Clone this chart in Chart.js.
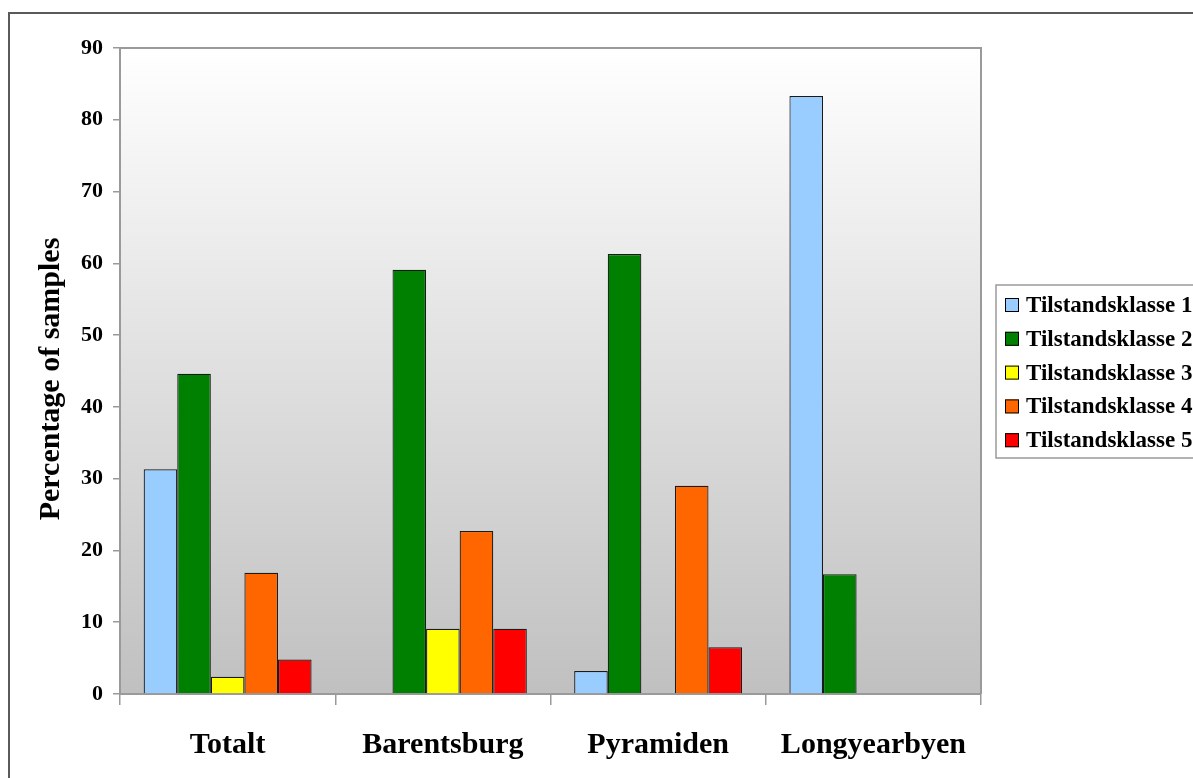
<!DOCTYPE html>
<html>
<head>
<meta charset="utf-8">
<script src="https://cdn.jsdelivr.net/npm/chart.js@4.4.1/dist/chart.umd.min.js"></script>
<style>
  html, body { margin: 0; padding: 0; background: #ffffff; }
  canvas { display: block; }
</style>
</head>
<body>
<canvas id="chart" width="1193" height="778"></canvas>
<script>
// Sites along the x axis
const categories = ['Totalt', 'Barentsburg', 'Pyramiden', 'Longyearbyen'];

// Share of samples (%) in each condition class, per site
const klasse1 = [31.3, 0, 3.2, 83.3];
const klasse2 = [44.6, 59.1, 61.3, 16.7];
const klasse3 = [2.4, 9.1, 0, 0];
const klasse4 = [16.9, 22.7, 29.0, 0];
const klasse5 = [4.8, 9.1, 6.5, 0];

const seriesLabels = ['Tilstandsklasse 1', 'Tilstandsklasse 2', 'Tilstandsklasse 3', 'Tilstandsklasse 4', 'Tilstandsklasse 5'];
const seriesColors = ['#99ccff', '#008000', '#ffff00', '#ff6600', '#ff0000'];
const yTicks = [0, 10, 20, 30, 40, 50, 60, 70, 80, 90];
const yTitle = 'Percentage of samples';

const serif = "'Liberation Serif', 'Times New Roman', serif";
const axisGray = '#9a9a9a';

// Gradient plot background, page frame, plot border and y-axis title
const framePlugin = {
  id: 'frame',
  beforeDraw(chart) {
    const { ctx, chartArea: a } = chart;
    ctx.save();
    ctx.fillStyle = '#ffffff';
    ctx.fillRect(0, 0, chart.width, chart.height);
    const g = ctx.createLinearGradient(0, a.top, 0, a.bottom);
    g.addColorStop(0, '#ffffff');
    g.addColorStop(1, '#c0c0c0');
    ctx.fillStyle = g;
    ctx.fillRect(a.left, a.top, a.right - a.left, a.bottom - a.top);
    ctx.strokeStyle = '#5a5a5a';
    ctx.lineWidth = 2;
    ctx.strokeRect(9, 13, chart.width + 20, chart.height + 20);
    ctx.restore();
  },
  afterDatasetsDraw(chart) {
    const { ctx, chartArea: a } = chart;
    ctx.save();
    ctx.strokeStyle = axisGray;
    ctx.lineWidth = 2;
    ctx.beginPath();
    ctx.moveTo(a.left, a.bottom);
    ctx.lineTo(a.left, a.top);
    ctx.lineTo(a.right, a.top);
    ctx.lineTo(a.right, a.bottom);
    ctx.stroke();
    ctx.restore();
  },
  afterDraw(chart) {
    const { ctx, chartArea: a } = chart;
    ctx.save();
    ctx.translate(51, (a.top + a.bottom) / 2 + 8);
    ctx.rotate(-Math.PI / 2);
    ctx.font = "bold 30px " + serif;
    ctx.fillStyle = '#000000';
    ctx.textAlign = 'center';
    ctx.textBaseline = 'middle';
    ctx.fillText(yTitle, 0, 0);
    ctx.restore();
  }
};

// Boxed legend to the right of the plot, built from the datasets
const legendBoxPlugin = {
  id: 'legendBox',
  afterDraw(chart) {
    const { ctx } = chart;
    const x = 996, y = 285, w = 240, h = 173;
    ctx.save();
    ctx.fillStyle = '#ffffff';
    ctx.fillRect(x, y, w, h);
    ctx.strokeStyle = axisGray;
    ctx.lineWidth = 1.5;
    ctx.strokeRect(x, y, w, h);
    ctx.font = "bold 23px " + serif;
    ctx.textBaseline = 'middle';
    ctx.textAlign = 'left';
    chart.data.datasets.forEach((ds, i) => {
      const cy = 305 + i * 33.8;
      ctx.fillStyle = ds.backgroundColor;
      ctx.fillRect(1005, cy - 7, 14, 14);
      ctx.strokeStyle = '#000000';
      ctx.lineWidth = 1;
      ctx.strokeRect(1005.5, cy - 6.5, 13, 13);
      ctx.fillStyle = '#000000';
      ctx.fillText(ds.label, 1026, cy + 1);
    });
    ctx.restore();
  }
};

const seriesValues = [klasse1, klasse2, klasse3, klasse4, klasse5];

new Chart(document.getElementById('chart'), {
  type: 'bar',
  data: {
    labels: categories,
    datasets: seriesValues.map((vals, i) => ({
      label: seriesLabels[i],
      data: vals,
      backgroundColor: seriesColors[i],
      borderColor: '#1a1a1a',
      borderWidth: 1.2,
      categoryPercentage: 0.78,
      barPercentage: 1.0
    }))
  },
  options: {
    responsive: false,
    animation: false,
    layout: { padding: { top: 48, right: 212, bottom: 0, left: 0 } },
    plugins: {
      legend: { display: false },
      tooltip: { enabled: false }
    },
    scales: {
      x: {
        grid: {
          offset: true,
          drawOnChartArea: false,
          drawTicks: true,
          tickLength: 11,
          color: axisGray,
          lineWidth: 1.5
        },
        border: { color: axisGray, width: 2 },
        ticks: {
          color: '#000000',
          padding: 22,
          font: { family: serif, size: 30, weight: 'bold' }
        },
        afterFit(scale) { scale.height = 84; }
      },
      y: {
        min: 0,
        max: 90,
        afterBuildTicks(scale) { scale.ticks = yTicks.map(v => ({ value: v })); },
        grid: {
          drawOnChartArea: false,
          drawTicks: true,
          tickLength: 7,
          color: axisGray,
          lineWidth: 1.5
        },
        border: { color: axisGray, width: 2 },
        ticks: {
          color: '#000000',
          padding: 10,
          font: { family: serif, size: 22, weight: 'bold' }
        },
        title: { display: false },
        afterFit(scale) { scale.width = 120; }
      }
    }
  },
  plugins: [framePlugin, legendBoxPlugin]
});
</script>
</body>
</html>
